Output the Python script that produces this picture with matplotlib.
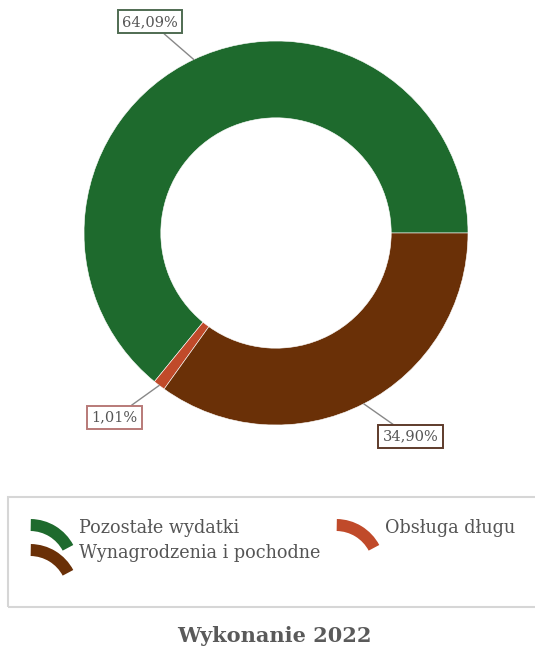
import matplotlib
matplotlib.use("Agg")
import matplotlib.pyplot as plt
from matplotlib.patches import Wedge, Rectangle
import numpy as np

categories = ["Pozostałe wydatki", "Obsługa długu", "Wynagrodzenia i pochodne"]
values = [64.09, 1.01, 34.90]
value_labels = ["64,09%", "1,01%", "34,90%"]
colors = ["#1e6a2d", "#c04a2a", "#6a3007"]
label_edge = ["#4f6b52", "#b87a78", "#5e3b2b"]
title = "Wykonanie 2022"

W, H = 535, 661
fig = plt.figure(figsize=(W / 100, H / 100), dpi=100)
fig.patch.set_facecolor("white")

# Donut axes: center (276, 233) px, outer radius 192 px
cx, cy, R = 276, 233, 192
half = 210
ax = fig.add_axes([(cx - half) / W, (H - cy - half) / H, 2 * half / W, 2 * half / H])
wedges, _ = ax.pie(values, colors=colors, startangle=0, counterclock=True,
                   radius=1.0, wedgeprops=dict(width=0.40, edgecolor="white", linewidth=0.4))
lim = half / R
ax.set_xlim(-lim, lim)
ax.set_ylim(-lim, lim)
ax.set_aspect("equal")
ax.axis("off")

# Data labels with leader lines
label_pos = [(-0.655, 1.10), (-0.84, -0.96), (0.70, -1.06)]
for w, txt, pos, ec in zip(wedges, value_labels, label_pos, label_edge):
    ang = np.deg2rad((w.theta1 + w.theta2) / 2)
    px, py = np.cos(ang), np.sin(ang)
    ax.annotate(txt, xy=(px, py), xytext=pos, ha="center", va="center",
                fontsize=10.5, family="DejaVu Serif", color="#555555",
                bbox=dict(boxstyle="square,pad=0.3", fc="white", ec=ec, lw=1.4),
                arrowprops=dict(arrowstyle="-", color="#888888", lw=1.0,
                                shrinkA=0, shrinkB=0),
                annotation_clip=False)

# Overlay axes in pixel coordinates for legend & title
ov = fig.add_axes([0, 0, 1, 1])
ov.set_xlim(0, W)
ov.set_ylim(0, H)
ov.axis("off")
ov.set_zorder(-1)

def Y(y):
    return H - y

ov.add_patch(Rectangle((8, Y(607)), 540, 110, fill=False, ec="#d6d6d6", lw=1.5))

entries = [(32, 520), (338, 520), (32, 545)]
for (ix, iy), name, col in zip(entries, categories, colors):
    ov.add_patch(Wedge((ix - 2, Y(iy + 48)), 49, 28, 89, width=12, fc=col, ec="none"))
    ov.text(ix + 47, Y(iy + 8), name, fontsize=12.7, family="DejaVu Serif",
            color="#555555", ha="left", va="center")

ov.text(W / 2 + 7, Y(636), title, fontsize=15, family="DejaVu Serif",
        fontweight="bold", color="#5a5a5a", ha="center", va="center")

fig.savefig("out.png", dpi=100, facecolor="white")
